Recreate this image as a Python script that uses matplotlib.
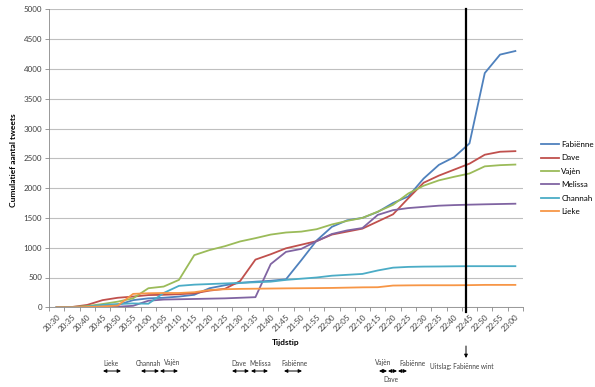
import matplotlib
matplotlib.use('Agg')
import matplotlib.pyplot as plt
import numpy as np

# tijdstippen: 20:30 t/m 23:00 per 5 minuten
tijden = ['20:30', '20:35', '20:40', '20:45', '20:50', '20:55', '21:00', '21:05', '21:10', '21:15',
          '21:20', '21:25', '21:30', '21:35', '21:40', '21:45', '21:50', '21:55', '22:00', '22:05',
          '22:10', '22:15', '22:20', '22:25', '22:30', '22:35', '22:40', '22:45', '22:50', '22:55',
          '23:00']

fabienne = [0, 0, 5, 15, 40, 120, 150, 160, 180, 210, 320, 370, 410, 430, 445, 470, 790, 1120,
            1350, 1460, 1500, 1600, 1750, 1860, 2160, 2390, 2520, 2750, 3930, 4240, 4300]
dave = [0, 5, 40, 120, 160, 180, 205, 210, 220, 235, 280, 310, 440, 800, 890, 990, 1050, 1110,
        1220, 1270, 1320, 1440, 1560, 1830, 2090, 2210, 2310, 2410, 2560, 2610, 2620]
vajen = [0, 5, 20, 55, 95, 150, 320, 348, 460, 875, 960, 1025, 1105, 1160, 1220, 1255, 1270, 1310,
         1390, 1450, 1500, 1605, 1720, 1910, 2040, 2130, 2190, 2245, 2365, 2385, 2395]
melissa = [0, 0, 0, 5, 10, 25, 110, 130, 135, 140, 145, 150, 160, 170, 725, 930, 980, 1110,
           1230, 1290, 1330, 1550, 1630, 1665, 1685, 1705, 1715, 1722, 1728, 1733, 1738]
channah = [0, 0, 10, 40, 55, 65, 60, 240, 360, 380, 390, 400, 410, 420, 430, 460, 480, 500,
           530, 545, 560, 618, 665, 678, 683, 685, 688, 690, 690, 690, 690]
lieke = [0, 0, 5, 15, 30, 225, 236, 240, 240, 253, 290, 303, 309, 312, 315, 318, 320, 322,
         325, 330, 335, 337, 365, 368, 370, 370, 370, 372, 376, 376, 376]

namen = ['Fabiënne', 'Dave', 'Vajèn', 'Melissa', 'Channah', 'Lieke']
reeksen = [fabienne, dave, vajen, melissa, channah, lieke]
kleuren = ['#4F81BD', '#C0504D', '#9BBB59', '#8064A2', '#4BACC6', '#F79646']

winnaar_x = 26.75  # zwarte lijn: uitslag

plt.rcParams['font.family'] = ['Lato', 'DejaVu Sans']

fig = plt.figure(figsize=(5.95, 3.87), dpi=100)
ax = fig.add_axes([49 / 595, 1 - 307.3 / 387, (523 - 49) / 595, (307.3 - 9.3) / 387])

x = np.arange(len(tijden))
for naam, reeks, kleur in zip(namen, reeksen, kleuren):
    ax.plot(x, reeks, color=kleur, lw=1.3, label=naam)

ax.axvline(winnaar_x, ymin=-0.017, ymax=1, color='black', lw=1.6, clip_on=False, zorder=5)

ax.set_xlim(-0.5, len(tijden) - 0.5)
ax.set_ylim(0, 5000)
ax.set_yticks(np.arange(0, 5001, 500))
ax.grid(axis='y', color='#BFBFBF', lw=0.8)
ax.set_axisbelow(True)

ax.set_xticks(x)
ax.set_xticklabels(tijden, rotation=45, ha='right', rotation_mode='anchor', fontsize=5.8, color='#404040')
ax.set_xticks(np.arange(-0.5, len(tijden)), minor=True)
ax.tick_params(axis='x', which='major', length=0, pad=4)
ax.tick_params(axis='x', which='minor', length=3, color='#888888', width=0.6)
ax.tick_params(axis='y', length=3, color='#888888', width=0.6, labelsize=5.8, labelcolor='#404040', pad=2)

for kant in ['top', 'right']:
    ax.spines[kant].set_visible(False)
for kant in ['left', 'bottom']:
    ax.spines[kant].set_color('#888888')
    ax.spines[kant].set_linewidth(0.6)

fig.text(14 / 595, 1 - 160 / 387, 'Cumulatief aantal tweets', rotation=90, ha='center', va='center',
         fontsize=6, fontweight='bold')
fig.text(286 / 595, 1 - 343 / 387, 'Tijdstip', ha='center', va='center', fontsize=6, fontweight='bold')

fig.legend(loc='center left', bbox_to_anchor=(534 / 595, 1 - 178 / 387), frameon=False, fontsize=5.8,
           handlelength=2.2, labelspacing=0.8, handletextpad=0.3)

# pijltjes onder de grafiek
H = 387
pijlen = [(103, 121), (141, 159), (160, 178), (232, 249), (251, 268), (284, 302),
          (379, 387), (388, 397), (398, 407)]
for x0, x1 in pijlen:
    ax.annotate('', xy=(x1, H - 371), xytext=(x0, H - 371), xycoords='figure pixels',
                textcoords='figure pixels',
                arrowprops=dict(arrowstyle='<|-|>', color='black', lw=0.7, mutation_scale=5,
                                shrinkA=0, shrinkB=0))

labels_boven = [('Lieke', 111), ('Channah', 148), ('Vajèn', 172), ('Dave', 239), ('Melissa', 260),
                ('Fabiënne', 294), ('Vajèn', 383), ('Fabiënne', 412)]
for tekst, xp in labels_boven:
    fig.text(xp / 595, 1 - 363 / H, tekst, ha='center', va='center', fontsize=4.7, color='#404040')
fig.text(391 / 595, 1 - 379 / H, 'Dave', ha='center', va='center', fontsize=4.7, color='#404040')

ax.annotate('', xy=(466, H - 358), xytext=(466, H - 346), xycoords='figure pixels',
            textcoords='figure pixels',
            arrowprops=dict(arrowstyle='-|>', color='black', lw=0.7, mutation_scale=5,
                            shrinkA=0, shrinkB=0))
fig.text(462 / 595, 1 - 366 / H, 'Uitslag: Fabiënne wint', ha='center', va='center', fontsize=4.7,
         color='#404040')

fig.savefig('out.png', dpi=100)
